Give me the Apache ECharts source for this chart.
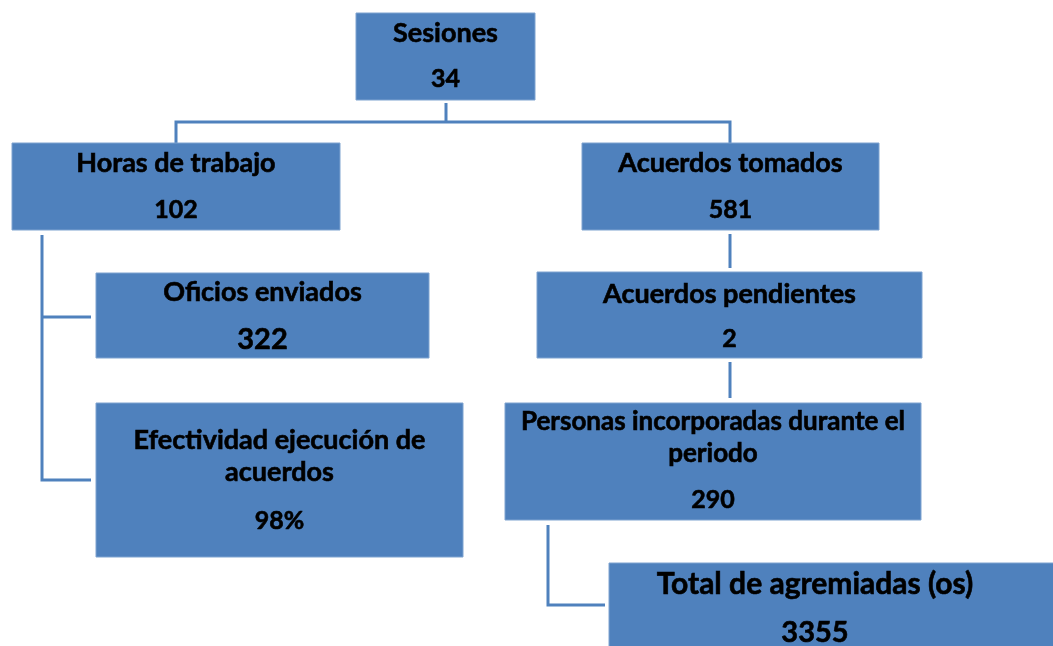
<!DOCTYPE html>
<html>
<head>
<meta charset="utf-8">
<script src="https://cdn.jsdelivr.net/npm/echarts@6/dist/echarts.min.js"></script>
<style>
  html, body { margin: 0; padding: 0; background: #fff; }
  #chart { width: 1053px; height: 646px; }
</style>
</head>
<body>
<div id="chart"></div>
<script>
// node content
const titles = [
  'Sesiones',
  'Horas de trabajo',
  'Acuerdos tomados',
  'Oficios enviados',
  'Acuerdos pendientes',
  'Efectividad ejecución de\nacuerdos',
  'Personas incorporadas durante el\nperiodo',
  'Total de agremiadas (os)'
];
const values = ['34', '102', '581', '322', '2', '98%', '290', '3355'];

// box layout in pixel units of the diagram:
// [x0, y0, x1, y1, titleY, valueY, titleSize, valueSize, textX (optional)]
const boxes = [
  [356, 13, 535, 100, 33, 79, 27, 25],
  [12, 143, 340, 230, 163, 210, 27, 25],
  [582, 143, 879, 230, 163, 210, 27, 25],
  [96, 273, 429, 358, 292, 340, 27, 29],
  [537, 272, 922, 358, 294, 339, 27, 25],
  [96, 403, 463, 557, 440, 521, 27, 25],
  [505, 403, 921, 520, 422, 500, 26, 25],
  [609, 563, 1060, 660, 584, 633, 30, 29, 815]
];

// connector polylines
const connectors = [
  [[446, 103], [446, 122]],
  [[176, 143], [176, 122], [730, 122], [730, 143]],
  [[42, 235], [42, 480], [91, 480]],
  [[42, 317], [91, 317]],
  [[730, 234], [730, 268]],
  [[730, 362], [730, 398]],
  [[548, 525], [548, 605], [605, 605]]
];

const BLUE = '#4f81bd';
const FONT = 'Lato, "Open Sans", sans-serif';

const chart = echarts.init(document.getElementById('chart'));

chart.setOption({
  animation: false,
  grid: { left: 0, right: 0, top: 0, bottom: 0 },
  xAxis: { type: 'value', min: 0, max: 1053, show: false },
  yAxis: { type: 'value', min: 0, max: 646, inverse: true, show: false },
  series: [
    {
      type: 'lines',
      coordinateSystem: 'cartesian2d',
      polyline: true,
      silent: true,
      lineStyle: { color: BLUE, width: 3, opacity: 1 },
      data: connectors.map(c => ({ coords: c }))
    },
    {
      type: 'custom',
      silent: true,
      data: boxes.map((b, i) => [i].concat(b.slice(0, 4))),
      renderItem: (params, api) => {
        const i = api.value(0);
        const b = boxes[i];
        const p0 = api.coord([b[0], b[1]]);
        const p1 = api.coord([b[2], b[3]]);
        const cx = b[8] != null ? api.coord([b[8], 0])[0] : (p0[0] + p1[0]) / 2;
        const ty = api.coord([0, b[4]])[1];
        const vy = api.coord([0, b[5]])[1];
        const lines = titles[i].split('\n');
        const lineH = b[6] * 1.2;
        const children = [
          {
            type: 'rect',
            shape: { x: p0[0], y: p0[1], width: p1[0] - p0[0], height: p1[1] - p0[1] },
            style: { fill: BLUE, stroke: '#7ea3d0', lineWidth: 1 }
          }
        ];
        lines.forEach((ln, k) => {
          children.push({
            type: 'text',
            style: {
              text: ln, x: cx, y: ty + k * lineH,
              align: 'center', verticalAlign: 'middle',
              fill: '#000', stroke: '#000', lineWidth: 0.6,
              font: 'bold ' + b[6] + 'px ' + FONT
            }
          });
        });
        children.push({
          type: 'text',
          style: {
            text: values[i], x: cx, y: vy,
            align: 'center', verticalAlign: 'middle',
            fill: '#000', stroke: '#000', lineWidth: 0.6,
            font: 'bold ' + b[7] + 'px ' + FONT
          }
        });
        return { type: 'group', children: children };
      }
    }
  ]
});

window.addEventListener('resize', () => chart.resize());
</script>
</body>
</html>
